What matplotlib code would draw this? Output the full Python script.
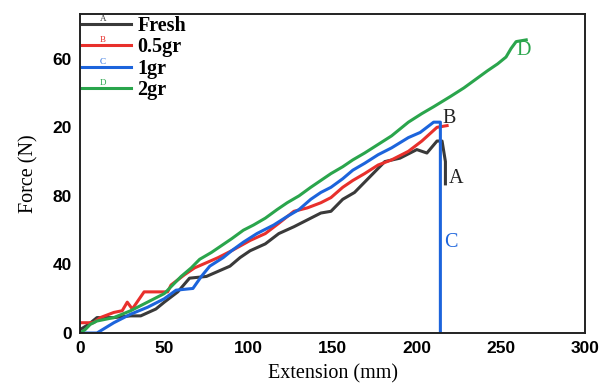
import matplotlib.pyplot as plt

# Extension (mm) / Force (N)
fresh_x = [0, 5, 10, 20, 30, 36, 45, 50, 58, 65, 75, 82, 89, 95, 101, 110, 118, 127,
           135, 143, 149, 156, 163, 169, 175, 181, 190, 200, 206, 212, 215, 217, 217]
fresh_y = [2, 5, 9, 9, 10, 10, 14, 18, 24, 32, 33, 36, 39, 44, 48, 52, 58, 62,
           66, 70, 71, 78, 82, 88, 94, 100, 102, 107, 105, 112, 112, 100, 87]

half_x = [0, 8, 12, 20, 25, 28, 31, 38, 45, 52, 54, 62, 68, 75, 82, 90, 101, 110,
          118, 127, 135, 143, 149, 156, 162, 169, 177, 185, 195, 203, 212, 218]
half_y = [6, 6, 9, 12, 13, 18, 14, 24, 24, 24, 28, 34, 38, 41, 44, 48, 54, 58,
          64, 71, 73, 76, 79, 85, 89, 93, 98, 101, 106, 112, 120, 121]

one_x = [0, 8, 10, 15, 20, 30, 40, 50, 57, 67, 72, 77, 85, 90, 97, 105, 115, 123,
         130, 137, 143, 149, 156, 162, 169, 177, 185, 195, 202, 210, 214, 214]
one_y = [0, 0, 0, 3, 6, 11, 15, 20, 25, 26, 33, 39, 44, 48, 53, 58, 63, 68,
         72, 78, 82, 85, 90, 95, 99, 104, 108, 114, 117, 123, 123, 0]

two_x = [0, 3, 6, 10, 15, 20, 30, 40, 50, 55, 60, 66, 71, 78, 84, 90, 97, 103, 110,
         117, 123, 130, 137, 143, 149, 156, 162, 169, 177, 185, 190, 195, 203, 210,
         215, 220, 228, 235, 242, 248, 253, 256, 259, 265]
two_y = [0, 2, 5, 7, 8, 9, 13, 18, 23, 28, 33, 38, 43, 47, 51, 55, 60, 63, 67,
         72, 76, 80, 85, 89, 93, 97, 101, 105, 110, 115, 119, 123, 128, 132,
         135, 138, 143, 148, 153, 157, 161, 166, 170, 171]

y_ticks = [0, 40, 80, 120, 160]
y_tick_labels = ["0", "40", "80", "20", "60"]
x_ticks = [0, 50, 100, 150, 200, 250, 300]

fig = plt.figure(figsize=(6.07, 3.83), dpi=100)
ax = fig.add_axes([0.132, 0.1305, 0.832, 0.8325])

lw = 2.2
ax.plot(fresh_x, fresh_y, color="#3a3a3a", lw=lw, label="Fresh")
ax.plot(half_x, half_y, color="#e8302c", lw=lw, label="0.5gr")
ax.plot(one_x, one_y, color="#1c64dc", lw=lw, label="1gr")
ax.plot(two_x, two_y, color="#2aa54c", lw=lw, label="2gr")

ax.set_xlim(0, 300)
ax.set_ylim(0, 186)
ax.set_xticks(x_ticks)
ax.set_yticks(y_ticks)
ax.set_yticklabels(y_tick_labels)
ax.tick_params(length=0)
ax.tick_params(axis="x", pad=6)
ax.tick_params(axis="y", pad=6)
for lab in ax.get_xticklabels() + ax.get_yticklabels():
    lab.set_fontfamily("Liberation Sans")
    lab.set_fontweight("bold")
    lab.set_fontsize(12.5)
for s in ax.spines.values():
    s.set_linewidth(1.4)
    s.set_color("#222222")

ax.set_xlabel("Extension (mm)", fontfamily="Liberation Serif", fontsize=14.5, labelpad=6)
ax.set_ylabel("Force (N)", fontfamily="Liberation Serif", fontsize=14.5, labelpad=10)

leg = ax.legend(loc="upper left", frameon=False, borderaxespad=0.1, borderpad=0.0,
                handlelength=2.45, handletextpad=0.3, labelspacing=0.06,
                prop={"family": "Liberation Serif", "weight": "bold", "size": 14.5})

# small letters above the legend lines
for i, (ch, c) in enumerate(zip("ABCD", ["#3a3a3a", "#e8302c", "#1c64dc", "#2aa54c"])):
    ax.text(0.0455, 0.985 - i * 0.0674, ch, transform=ax.transAxes, color=c,
            fontfamily="Liberation Serif", fontsize=6.5, ha="center", va="center")

# curve labels
ax.text(219, 90, "A", color="#222222", fontfamily="Liberation Serif", fontsize=14.5, va="center")
ax.text(215, 125, "B", color="#222222", fontfamily="Liberation Serif", fontsize=14.5, va="center")
ax.text(216, 53, "C", color="#1c64dc", fontfamily="Liberation Serif", fontsize=14.5, va="center")
ax.text(259, 165, "D", color="#2aa54c", fontfamily="Liberation Serif", fontsize=14.5, va="center")

fig.savefig("out.png", dpi=100)
